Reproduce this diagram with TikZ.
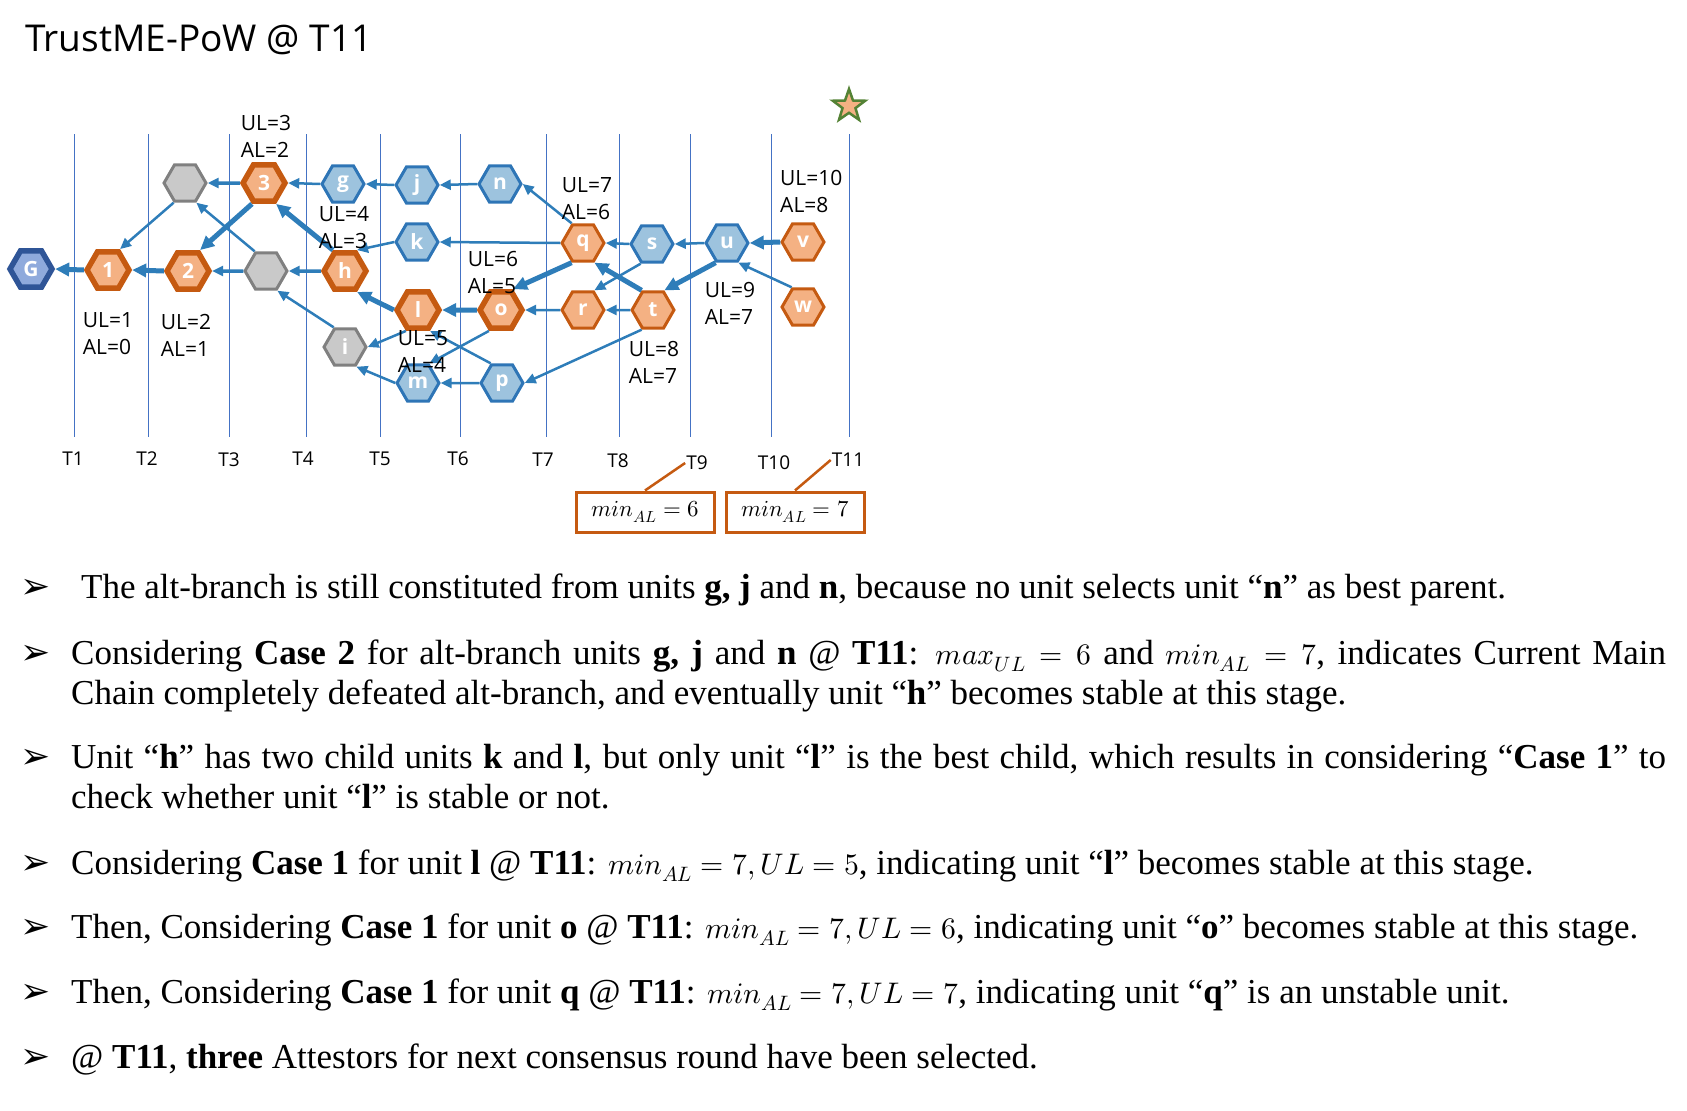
\documentclass[tikz,border=0pt]{standalone}
\usepackage{fontspec}
\usepackage{unicode-math}
\setmainfont{Liberation Serif}
\setmathfont{Latin Modern Math}[Scale=0.85]
\newfontfamily\diagfont{Open Sans}
\newfontfamily\bulletfont{DejaVu Sans}
\usetikzlibrary{shapes.geometric, arrows.meta}
\definecolor{unitOrange}{RGB}{244, 177, 131}
\definecolor{rimOrange}{RGB}{197, 90, 17}
\definecolor{unitBlue}{RGB}{157, 195, 222}
\definecolor{rimBlue}{RGB}{46, 117, 182}
\definecolor{unitGrey}{RGB}{201, 201, 201}
\definecolor{rimGrey}{RGB}{128, 128, 128}
\definecolor{genesisBlue}{RGB}{143, 170, 220}
\definecolor{rimGenesis}{RGB}{47, 85, 151}
\definecolor{linkBlue}{RGB}{46, 125, 185}
\definecolor{slotBlue}{RGB}{68, 114, 196}
\definecolor{starGreen}{RGB}{84, 130, 53}

\begin{document}
\begin{tikzpicture}
    [
        x=1pt, y=-1pt,
        unit/.style={
            regular polygon, regular polygon sides=6, minimum size=42pt,
            inner sep=0pt, line width=3pt, text=white,
            font=\diagfont\bfseries\fontsize{21}{21}\selectfont
        },
        mainunit/.style={unit, draw=rimOrange, fill=unitOrange, line width=5.5pt},
        sideunit/.style={unit, draw=rimOrange, fill=unitOrange},
        altunit/.style={unit, draw=rimBlue, fill=unitBlue},
        orphan/.style={unit, draw=rimGrey, fill=unitGrey},
        link/.style={draw=linkBlue, line width=2.5pt, -{Triangle[length=11pt, width=10pt]}},
        midlink/.style={link, line width=3.5pt},
        bestlink/.style={draw=linkBlue, line width=5pt, -{Triangle[length=14pt, width=13pt]}},
        levels/.style={font=\diagfont\fontsize{21}{27}\selectfont, align=left, inner sep=0pt},
        slot/.style={font=\diagfont\fontsize{19}{19}\selectfont, inner sep=1pt},
        slotline/.style={draw=slotBlue, line width=1pt},
        minbox/.style={
            draw=rimOrange, fill=white, line width=3pt, minimum width=138pt,
            minimum height=40pt, font=\fontsize{27}{27}\selectfont
        },
        callout/.style={draw=rimOrange, line width=2.5pt},
        item/.style={anchor=base west, inner sep=0pt, font=\fontsize{35}{40}\selectfont},
        para/.style={item, text width=1595pt, align=justify},
        bullet/.style={anchor=base, inner sep=0pt, font=\bulletfont\fontsize{36}{36}\selectfont}
    ]
\useasboundingbox (0,0) rectangle (1687,1111);

\node (title) [anchor=base west, inner sep=0pt, font=\diagfont\fontsize{37}{37}\selectfont]
    at (25,51) {TrustME-PoW @ T11};

% Time slots
\foreach \x [count=\c] in {74,148,229,306,380,460,546,619,690,771,849}
    \draw[slotline] (\x,134) -- (\x,437);
\foreach \x/\y [count=\c] in {73/459,147/459,229/460,303/459,380/459,458/459,543/460,618/461,697/463,774/463,848/460}
    \node (T\c) [slot] at (\x,\y) {T\c};

% Units
\node (G) [
        unit, draw=rimGenesis, fill=genesisBlue, line width=5.5pt
    ] at (31,269) {G};
\node (one) [mainunit] at (108,270) {1};
\node (two) [mainunit] at (188,271) {2};
\node (three) [mainunit] at (264,183) {3};
\node (greyA) [orphan] at (185,183) {};
\node (greyB) [orphan] at (266,271) {};
\node (g) [altunit] at (343,184) {g};
\node (h) [mainunit] at (345,271) {h};
\node (i) [orphan] at (345,347) {i};
\node (j) [altunit] at (417,185) {j};
\node (k) [altunit] at (417,242) {k};
\node (l) [mainunit] at (418,310) {l};
\node (m) [altunit] at (418,383) {m};
\node (n) [altunit] at (500,184) {n};
\node (o) [mainunit] at (501,310) {o};
\node (p) [altunit] at (502,383) {p};
\node (q) [sideunit] at (583,243) {q};
\node (r) [sideunit] at (583,310) {r};
\node (s) [altunit] at (652,244) {s};
\node (t) [sideunit] at (653,310) {t};
\node (u) [altunit] at (727,243) {u};
\node (v) [sideunit] at (803,242) {v};
\node (w) [sideunit] at (803,307) {w};

\node (goal) [
        star, star points=5, star point ratio=2.5, minimum size=34pt, inner sep=0pt,
        fill=unitOrange, draw=starGreen, line width=2.5pt
    ] at (849,106) {};

% Best parents
\draw[bestlink] (one.180) -- (G.0);
\draw[bestlink] (two.180) -- (one.0);
\draw[bestlink] (three.240) -- (two.60);
\draw[bestlink] (h.120) -- (three.300);
\draw[bestlink] (l.180) -- (h.300);
\draw[bestlink] (o.180) -- (l.0);
\draw[bestlink] (q.240) -- (o.60);
\draw[bestlink] (t.120) -- (q.300);
\draw[bestlink] (u.240) -- (t.60);
\draw[bestlink] (v.180) -- (u.0);

% Other parents
\draw[midlink] (three.180) -- (greyA.0);
\draw[midlink] (greyB.180) -- (two.0);
\draw[midlink] (h.180) -- (greyB.0);
\draw[link] (greyA.240) -- (one.60);
\draw[link] (greyB.120) -- (greyA.300);
\draw[link] (g.180) -- (three.0);
\draw[link] (j.180) -- (g.0);
\draw[link] (n.180) -- (j.0);
\draw[link] (k.180) -- (h.60);
\draw[link] (i.120) -- (greyB.300);
\draw[link] (l.240) -- (i.0);
\draw[link] (m.180) -- (i.300);
\draw[link] (o.240) -- (m.60);
\draw[link] (p.180) -- (m.0);
\draw[link] (p.120) -- (l.300);
\draw[link] (t.240) -- (p.0);
\draw[link] (q.120) -- (n.0);
\draw[link] (q.180) -- (k.0);
\draw[link] (s.180) -- (q.0);
\draw[link] (s.240) -- (r.60);
\draw[link] (u.180) -- (s.0);
\draw[link] (r.180) -- (o.0);
\draw[link] (t.180) -- (r.0);
\draw[link] (w.120) -- (u.300);

% Levels
\node (lv3) [levels] at (266,136) {UL=3\\AL=2};
\node (lv1) [levels] at (108,334) {UL=1\\AL=0};
\node (lv2) [levels] at (186,335) {UL=2\\AL=1};
\node (lvh) [levels] at (344,228) {UL=4\\AL=3};
\node (lvl) [levels] at (423,351) {UL=5\\AL=4};
\node (lvo) [levels] at (493,272) {UL=6\\AL=5};
\node (lvq) [levels] at (587,199) {UL=7\\AL=6};
\node (lvt) [levels] at (654,362) {UL=8\\AL=7};
\node (lvu) [levels] at (730,303) {UL=9\\AL=7};
\node (lvv) [levels, anchor=west] at (780,191) {UL=10\\AL=8};

% Minimum AL
\node (minA) [minbox] at (645,512) {$min_{AL} = 6$};
\node (minB) [minbox] at (795,512) {$min_{AL} = 7$};
\draw[callout] (minA.north) -- (T9.west);
\draw[callout] (minB.north) -- (T11.west);

% Notes
\foreach \y [count=\c] in {598,664,768,874,938,1003,1068}
    \node (dot\c) [bullet] at (36,\y) {➢};
\node (note1) [item] at (81,598) {The alt-branch is still constituted from units \textbf{g, j} and \textbf{n}, because no unit selects unit “\textbf{n}” as best parent.};
\node (note2) [para] at (71,664) {Considering \textbf{Case 2} for alt-branch units \textbf{g, j} and \textbf{n} @ \textbf{T11}: $max_{UL} = 6$ and $min_{AL} = 7$, indicates Current Main\linebreak Chain completely defeated alt-branch, and eventually unit “\textbf{h}” becomes stable at this stage.};
\node (note3) [para] at (71,768) {Unit “\textbf{h}” has two child units \textbf{k} and \textbf{l}, but only unit “\textbf{l}” is the best child, which results in considering “\textbf{Case 1}” to\linebreak check whether unit “\textbf{l}” is stable or not.};
\node (note4) [item] at (71,874) {Considering \textbf{Case 1} for unit \textbf{l} @ \textbf{T11}: $min_{AL} = 7, UL = 5$, indicating unit “\textbf{l}” becomes stable at this stage.};
\node (note5) [item] at (71,938) {Then, Considering \textbf{Case 1} for unit \textbf{o} @ \textbf{T11}: $min_{AL} = 7, UL = 6$, indicating unit “\textbf{o}” becomes stable at this stage.};
\node (note6) [item] at (71,1003) {Then, Considering \textbf{Case 1} for unit \textbf{q} @ \textbf{T11}: $min_{AL} = 7, UL = 7$, indicating unit “\textbf{q}” is an unstable unit.};
\node (note7) [item] at (71,1068) {@ \textbf{T11}, \textbf{three} Attestors for next consensus round have been selected.};

\end{tikzpicture}
\end{document}
